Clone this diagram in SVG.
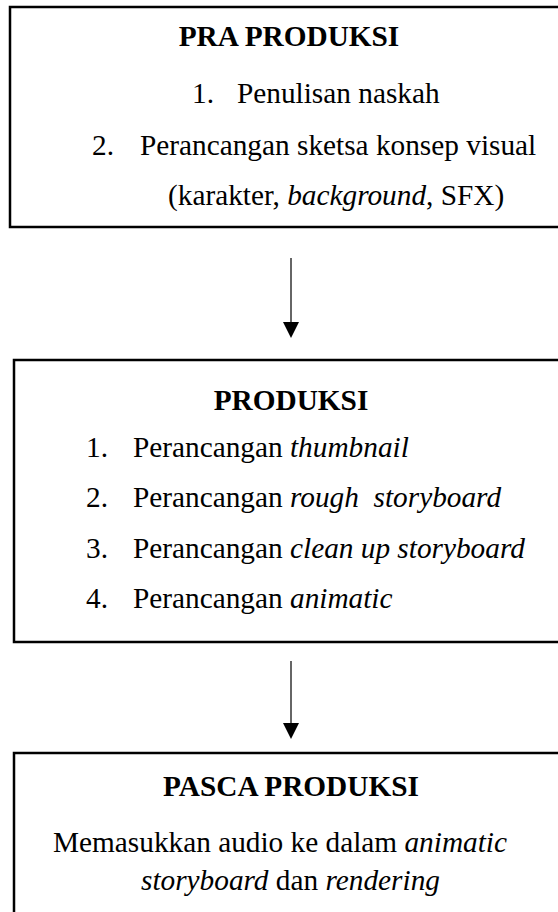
<svg xmlns="http://www.w3.org/2000/svg" width="558" height="912" viewBox="0 0 558 912">
  <style>
    text { font-family: "Liberation Serif", "DejaVu Serif", serif; font-size: 29.3px; fill: #000000; }
    .box { fill: #ffffff; stroke: #000000; stroke-width: 2.5; }
    .title { font-weight: bold; text-anchor: middle; }
    .it { font-style: italic; }
    .link { stroke: #333333; stroke-width: 1.5; fill: none; }
    .head { fill: #000000; }
  </style>
  <rect width="558" height="912" fill="#ffffff"/>

  <g id="pra-produksi">
    <rect class="box" x="10" y="7" width="570" height="220"/>
    <text class="title" x="289" y="46">PRA PRODUKSI</text>
    <text x="192" y="103">1.</text>
    <text x="237" y="103">Penulisan naskah</text>
    <text x="92" y="155">2.</text>
    <text x="140" y="155">Perancangan sketsa konsep visual</text>
    <text x="168" y="205">(karakter, <tspan class="it">background</tspan>, SFX)</text>
  </g>

  <g id="produksi">
    <rect class="box" x="14" y="360" width="570" height="282"/>
    <text class="title" x="291" y="410">PRODUKSI</text>
    <text x="86" y="457">1.</text>
    <text x="133" y="457">Perancangan <tspan class="it">thumbnail</tspan></text>
    <text x="86" y="507">2.</text>
    <text x="133" y="507" xml:space="preserve">Perancangan <tspan class="it">rough  storyboard</tspan></text>
    <text x="86" y="558">3.</text>
    <text x="133" y="558">Perancangan <tspan class="it">clean up storyboard</tspan></text>
    <text x="86" y="608">4.</text>
    <text x="133" y="608">Perancangan <tspan class="it">animatic</tspan></text>
  </g>

  <g id="pasca-produksi">
    <rect class="box" x="14" y="753" width="570" height="180"/>
    <text class="title" x="291" y="796">PASCA PRODUKSI</text>
    <text x="53" y="852">Memasukkan audio ke dalam <tspan class="it">animatic</tspan></text>
    <text x="141" y="890"><tspan class="it">storyboard</tspan> dan <tspan class="it">rendering</tspan></text>
  </g>

  <g id="connectors">
    <line class="link" x1="291" y1="258" x2="291" y2="324"/>
    <polygon class="head" points="283,322 299,322 291,338"/>
    <line class="link" x1="291" y1="661" x2="291" y2="725"/>
    <polygon class="head" points="283,723 299,723 291,739"/>
  </g>
</svg>
